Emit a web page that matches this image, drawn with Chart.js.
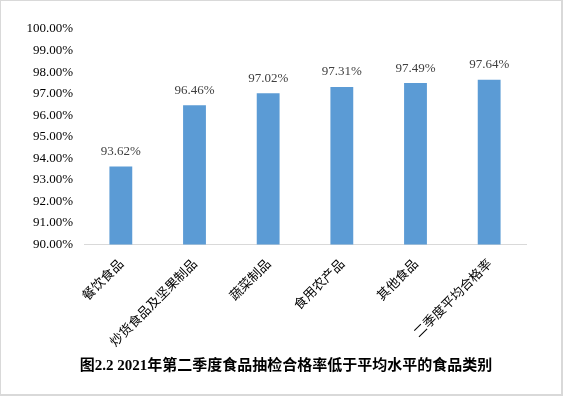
<!DOCTYPE html>
<html>
<head>
<meta charset="utf-8">
<script src="https://cdn.jsdelivr.net/npm/chart.js@4"></script>
<style>
  body { margin: 0; background: #fff; }
  .wrap { position: relative; width: 563px; height: 396px; }
  .frame {
    position: absolute; left: 0; top: 0; width: 563px; height: 396px;
    box-sizing: border-box; pointer-events: none;
    border-left: 1px solid #d9d9d9; border-top: 1px solid #d9d9d9;
    border-right: 2px solid #d9d9d9; border-bottom: 2px solid #d9d9d9;
  }
</style>
</head>
<body>
<div class="wrap">
  <canvas id="myChart" width="563" height="396"></canvas>
  <div class="frame"></div>
</div>
<script>
// categories and pass rates (%)
const categories = ["餐饮食品", "炒货食品及坚果制品", "蔬菜制品", "食用农产品", "其他食品", "二季度平均合格率"];
const passRates = [93.62, 96.46, 97.02, 97.31, 97.49, 97.64];
const yMin = 90;
const yMax = 100;
const yStep = 1;
const chartTitle = "图2.2 2021年第二季度食品抽检合格率低于平均水平的食品类别";

const serif = "'Liberation Serif', 'Times New Roman', serif";
const cjk = "'Noto Sans CJK SC', 'Noto Sans', sans-serif";

// draws the value above each bar + the caption under the chart
const valueLabels = {
  id: "valueLabels",
  afterDatasetsDraw(chart) {
    const ctx = chart.ctx;
    const meta = chart.getDatasetMeta(0);
    ctx.save();
    ctx.font = "13px " + serif;
    ctx.fillStyle = "#404040";
    ctx.textAlign = "center";
    ctx.textBaseline = "middle";
    meta.data.forEach((bar, i) => {
      ctx.fillText(passRates[i].toFixed(2) + "%", bar.x, bar.y - 15);
    });
    // caption
    ctx.font = "bold 15px " + serif + ", " + cjk;
    ctx.fillStyle = "#000";
    ctx.fillText(chartTitle, 286, 366);
    ctx.restore();
  },
};

const ctx = document.getElementById("myChart").getContext("2d");
const myChart = new Chart(ctx, {
  type: "bar",
  data: {
    labels: categories,
    datasets: [
      {
        data: passRates,
        backgroundColor: "#5b9bd5",
        borderWidth: 0,
        barPercentage: 0.31,
        categoryPercentage: 1,
      },
    ],
  },
  options: {
    responsive: false,
    animation: false,
    layout: {
      padding: { top: 29, right: 37, bottom: 0, left: 0 },
    },
    scales: {
      x: {
        grid: { display: false, drawTicks: false },
        border: { display: true, color: "#d9d9d9", width: 1 },
        ticks: {
          minRotation: 45,
          maxRotation: 45,
          autoSkip: false,
          padding: 11,
          color: "#000",
          font: { family: cjk, size: 13 },
        },
        afterFit: (scale) => {
          scale.height = 151.5;
        },
      },
      y: {
        min: yMin,
        max: yMax,
        grid: { display: false, drawTicks: false },
        border: { display: false },
        ticks: {
          stepSize: yStep,
          padding: 11,
          color: "#000",
          font: { family: serif, size: 13 },
          callback: (v) => v.toFixed(2) + "%",
        },
        afterFit: (scale) => {
          scale.width = 84;
        },
      },
    },
    plugins: {
      legend: { display: false },
      tooltip: { enabled: false },
      title: { display: false },
    },
  },
  plugins: [valueLabels],
});
</script>
</body>
</html>
